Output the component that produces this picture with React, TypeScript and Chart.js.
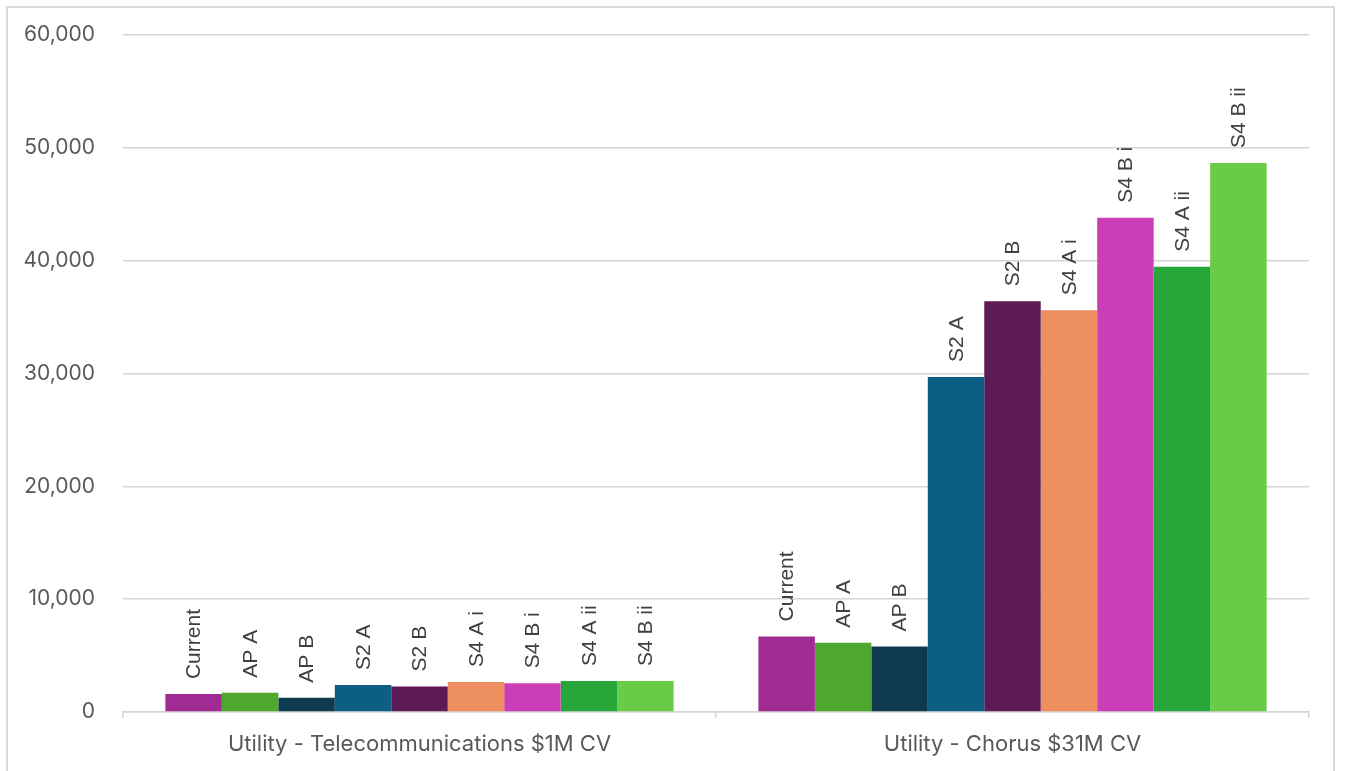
import React, { useEffect, useRef } from "react";
import { Chart, registerables } from "chart.js";

Chart.register(...registerables);

const categories = ["Utility - Telecommunications $1M CV", "Utility - Chorus $31M CV"];

const seriesNames = ["Current", "AP A", "AP B", "S2 A", "S2 B", "S4 A i", "S4 B i", "S4 A ii", "S4 B ii"];

const currentValues = [1590, 6700];
const apAValues = [1710, 6130];
const apBValues = [1270, 5810];
const s2AValues = [2390, 29700];
const s2BValues = [2270, 36400];
const s4AiValues = [2650, 35600];
const s4BiValues = [2540, 43800];
const s4AiiValues = [2740, 39450];
const s4BiiValues = [2740, 48650];

const yTicks = [0, 10000, 20000, 30000, 40000, 50000, 60000];

const seriesColors = [
  "#A02B93",
  "#4EA72E",
  "#0E3A50",
  "#0C5F82",
  "#5E1A55",
  "#EC8E5E",
  "#CC3DB8",
  "#27A63A",
  "#69CC46",
];

const seriesValues = [
  currentValues,
  apAValues,
  apBValues,
  s2AValues,
  s2BValues,
  s4AiValues,
  s4BiValues,
  s4AiiValues,
  s4BiiValues,
];

const barLabelPlugin = {
  id: "barLabels",
  afterDatasetsDraw(chart: any) {
    const ctx = chart.ctx;
    chart.data.datasets.forEach((ds: any, i: number) => {
      const meta = chart.getDatasetMeta(i);
      meta.data.forEach((el: any) => {
        ctx.save();
        ctx.translate(el.x, el.y - 15);
        ctx.rotate(-Math.PI / 2);
        ctx.textAlign = "left";
        ctx.textBaseline = "middle";
        ctx.font = '21px "Liberation Sans", Arial, sans-serif';
        ctx.fillStyle = "#404040";
        ctx.fillText(ds.label, 0, 1);
        ctx.restore();
      });
    });
  },
};

export default function App() {
  const canvasRef = useRef<HTMLCanvasElement | null>(null);

  useEffect(() => {
    if (!canvasRef.current) return;
    const chart = new Chart(canvasRef.current, {
      type: "bar",
      data: {
        labels: categories,
        datasets: seriesNames.map((name, i) => ({
          label: name,
          data: seriesValues[i],
          backgroundColor: seriesColors[i],
          borderWidth: 0,
          categoryPercentage: 0.857,
          barPercentage: 1,
        })),
      },
      options: {
        responsive: false,
        animation: false,
        layout: { padding: { top: 35, right: 36, left: 0, bottom: 0 } },
        plugins: {
          legend: { display: false },
          tooltip: { enabled: false },
        },
        scales: {
          x: {
            grid: {
              offset: true,
              drawOnChartArea: false,
              drawTicks: true,
              tickLength: 6,
              color: "#d4d4d4",
              lineWidth: 1.5,
            },
            border: { display: true, color: "#d4d4d4", width: 1.5 },
            ticks: {
              color: "#595959",
              font: { family: "Inter, 'Liberation Sans', sans-serif", size: 22 },
              padding: 13,
              maxRotation: 0,
            },
            afterFit: (s: any) => {
              s.height = 59;
            },
          },
          y: {
            min: 0,
            max: 60000,
            afterBuildTicks: (s: any) => {
              s.ticks = yTicks.map((v) => ({ value: v }));
            },
            ticks: {
              color: "#595959",
              font: { family: "Inter, 'Liberation Sans', sans-serif", size: 21 },
              padding: 28,
              callback: (v: any) => Number(v).toLocaleString("en-US"),
            },
            grid: {
              color: "#d4d4d4",
              lineWidth: 1.5,
              drawTicks: false,
            },
            border: { display: false },
            afterFit: (s: any) => {
              s.width = 123;
              s.paddingTop = 0;
              s.paddingBottom = 0;
            },
          },
        },
      },
      plugins: [barLabelPlugin],
    });
    return () => chart.destroy();
  }, []);

  return (
    <div style={{ position: "fixed", left: 0, top: 0, width: 1345, height: 771, background: "#fff" }}>
      <div
        style={{
          position: "absolute",
          left: 6,
          top: 6,
          width: 1329,
          height: 771,
          border: "2px solid #d9d9d9",
          borderBottom: "none",
          boxSizing: "border-box",
        }}
      />
      <canvas
        ref={canvasRef}
        width={1345}
        height={771}
        style={{ position: "absolute", left: 0, top: 0, display: "block" }}
      />
    </div>
  );
}
